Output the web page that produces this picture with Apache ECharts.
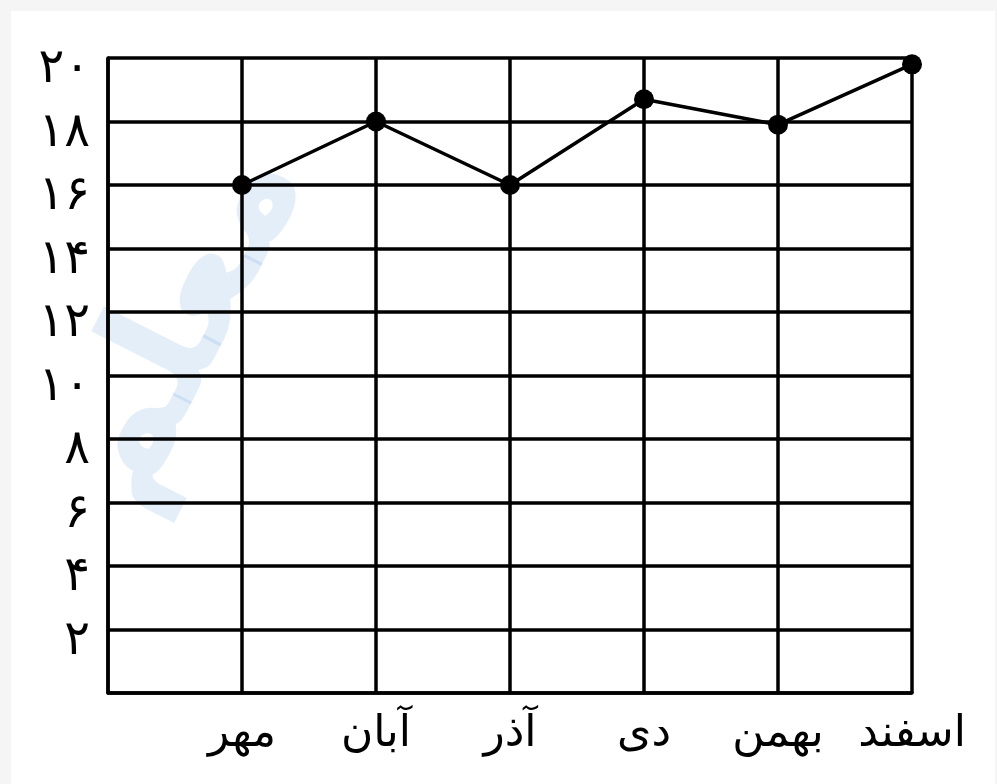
<!DOCTYPE html>
<html>
<head>
<meta charset="utf-8">
<script src="https://cdn.jsdelivr.net/npm/echarts@6/dist/echarts.min.js"></script>
<style>
  html, body { margin: 0; padding: 0; background: #f5f5f5; }
  #chart { position: absolute; left: 11px; top: 11px; width: 984px; height: 773px; background: #ffffff; }
</style>
</head>
<body>
<div id="chart"></div>
<script>
// ماه‌ها (اولی خالی است تا نقطه‌ها روی خطوط عمودی بیفتند)
var months = ['', 'مهر', 'آبان', 'آذر', 'دی', 'بهمن', 'اسفند'];
// نمره‌ها
var scores = [null, 16, 18, 16, 18.7, 17.9, 19.8];
// برچسب‌های محور عمودی
var yTickValues = [0, 2, 4, 6, 8, 10, 12, 14, 16, 18, 20];
var yTickLabels = ['', '۲', '۴', '۶', '۸', '۱۰', '۱۲', '۱۴', '۱۶', '۱۸', '۲۰'];

var myChart = echarts.init(document.getElementById('chart'));

var fontFam = '"DejaVu Sans", sans-serif';

var option = {
    animation: false,
    backgroundColor: '#ffffff',
    grid: { left: 97, right: 83, top: 47, bottom: 91 },
    graphic: [{
        type: 'text',
        left: 15, top: 110,
        rotation: 1.1,
        silent: true,
        style: {
            text: 'معلم',
            font: 'bold 160px "DejaVu Sans", sans-serif',
            fill: 'rgba(90,150,215,0.16)'
        }
    }],
    xAxis: {
        type: 'category',
        data: months,
        boundaryGap: false,
        axisLine: { lineStyle: { color: '#000', width: 3.5 } },
        axisTick: { show: false },
        axisLabel: {
            interval: 0,
            hideOverlap: false,
            color: '#000',
            fontSize: 44,
            fontFamily: fontFam,
            margin: 20
        },
        splitLine: { show: true, interval: 0, lineStyle: { color: '#000', width: 3.5 } }
    },
    yAxis: {
        type: 'value',
        min: 0,
        max: 20,
        interval: 2,
        axisLine: { show: true, lineStyle: { color: '#000', width: 3.5 } },
        axisTick: { show: false },
        axisLabel: {
            color: '#000',
            fontSize: 48,
            lineHeight: 24,
            verticalAlign: 'top',
            fontFamily: fontFam,
            margin: 18,
            formatter: function (v) {
                var i = yTickValues.indexOf(v);
                return i >= 0 ? yTickLabels[i] : '';
            }
        },
        splitLine: { show: true, lineStyle: { color: '#000', width: 3.5 } }
    },
    series: [{
        type: 'line',
        data: scores,
        symbol: 'circle',
        symbolSize: 20,
        showSymbol: true,
        connectNulls: false,
        itemStyle: { color: '#000' },
        lineStyle: { color: '#000', width: 3.5 }
    }]
};

myChart.setOption(option);
</script>
</body>
</html>
